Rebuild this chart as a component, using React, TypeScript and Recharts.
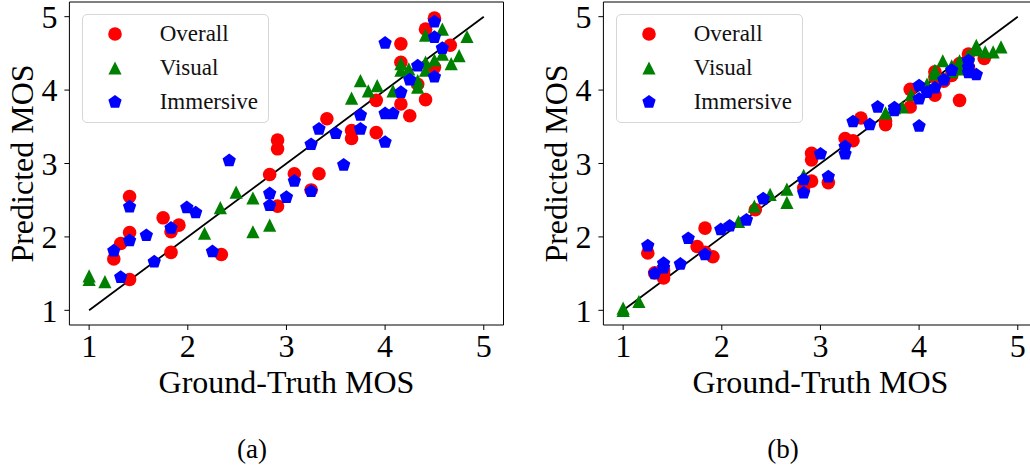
import {
  ScatterChart,
  Scatter,
  XAxis,
  YAxis,
  ReferenceLine,
  ReferenceArea,
  Legend,
  Label,
} from "recharts";

const FONT = '"Liberation Serif", "Times New Roman", serif';

const TICKS = [1, 2, 3, 4, 5];
const SERIES = ["Overall", "Visual", "Immersive"];
const COLORS = ["#ff0000", "#008000", "#0000ff"];
const PANEL_TAGS = ["(a)", "(b)"];

// ground-truth MOS is shared by both panels, predictions differ
const overallTruth = [
  4.5, 4.41, 4.66, 4.16, 4.16, 4.5, 4.33, 3.91, 4.16, 4.41, 4.25, 3.41, 3.66,
  3.66, 3.91, 2.91, 2.91, 2.83, 3.08, 3.33, 3.25, 2.91, 1.41, 1.75, 1.91, 1.83,
  1.41, 1.32, 1.25, 1.83, 2.34, 1.41,
];
const overallPredA = [
  4.98, 4.83, 4.61, 4.63, 4.38, 4.31, 4.08, 3.86, 3.81, 3.87, 3.65, 3.61, 3.45,
  3.34, 3.42, 3.32, 3.2, 2.85, 2.86, 2.86, 2.64, 2.42, 2.55, 2.26, 2.16, 2.07,
  2.06, 1.91, 1.7, 1.79, 1.76, 1.42,
];
const overallPredB = [
  4.49, 4.36, 4.43, 4.18, 4.25, 4.31, 4.2, 4.01, 3.93, 3.86, 4.12, 3.62, 3.53,
  3.58, 3.77, 3.14, 3.05, 2.67, 2.74, 3.31, 3.34, 2.76, 1.55, 1.87, 1.73, 2.12,
  1.44, 1.51, 1.78, 1.79, 2.37, 1.5,
];

const visualTruth = [
  4.58, 4.41, 4.83, 4.75, 4.67, 4.58, 4.5, 4.41, 4.41, 4.16, 4.16, 4.24, 4.33,
  4.33, 4.08, 3.75, 3.83, 3.92, 3.66, 2.49, 2.66, 2.33, 2.17, 2.66, 2.83, 1.0,
  1.0, 1.16,
];
const visualPredA = [
  4.83, 4.75, 4.73, 4.47, 4.36, 4.49, 4.41, 4.38, 4.27, 4.36, 4.27, 4.29, 4.13,
  4.04, 3.99, 4.13, 3.99, 4.06, 3.89, 2.61, 2.53, 2.4, 2.05, 2.07, 2.16, 1.47,
  1.42, 1.39,
];
const visualPredB = [
  4.61, 4.4, 4.59, 4.52, 4.52, 4.55, 4.48, 4.29, 4.35, 4.27, 4.22, 4.4, 4.33,
  4.25, 4.08, 3.76, 3.77, 3.94, 3.69, 2.58, 2.65, 2.42, 2.21, 2.47, 2.84, 1.03,
  1.0, 1.12,
];

const immersiveTruth = [
  4.5, 4.5, 4.58, 4.0, 4.33, 4.5, 4.25, 4.16, 4.0, 4.08, 4.0, 3.75, 3.75, 3.33,
  3.5, 3.25, 3.58, 2.42, 3.08, 2.83, 2.83, 3.0, 3.25, 1.99, 2.08, 1.41, 1.83,
  1.58, 1.41, 1.25, 1.66, 2.25, 1.32,
];
const immersivePredA = [
  4.93, 4.72, 4.57, 4.64, 4.33, 4.18, 4.14, 3.97, 3.68, 3.68, 3.29, 3.66, 3.47,
  3.47, 3.41, 3.26, 2.98, 3.04, 2.76, 2.59, 2.43, 2.54, 2.62, 2.4, 2.33, 2.41,
  2.12, 2.02, 1.95, 1.81, 1.66, 1.8, 1.45,
];
const immersivePredB = [
  4.4, 4.31, 4.21, 4.06, 4.27, 4.24, 4.14, 4.03, 3.88, 3.97, 3.51, 3.76, 3.72,
  3.57, 3.53, 3.23, 3.77, 2.52, 2.82, 2.78, 2.6, 3.13, 3.13, 2.1, 2.15, 1.64,
  1.76, 1.63, 1.58, 1.88, 1.98, 2.23, 1.5,
];

const pair = (xs: number[], ys: number[]) =>
  xs.map((x, i) => ({ x, y: ys[i] }));

const Marker = ({ kind, cx, cy }: { kind: number; cx: number; cy: number }) => {
  if (kind === 0) return <circle cx={cx} cy={cy} r={6.8} fill={COLORS[0]} />;
  if (kind === 1) {
    const s = 6.6;
    return (
      <polygon
        points={`${cx},${cy - s} ${cx - s},${cy + s} ${cx + s},${cy + s}`}
        fill={COLORS[1]}
      />
    );
  }
  const r = 7;
  const pts = [0, 1, 2, 3, 4]
    .map((k) => {
      const a = ((-90 + k * 72) * Math.PI) / 180;
      return `${cx + r * Math.cos(a)},${cy + r * Math.sin(a)}`;
    })
    .join(" ");
  return <polygon points={pts} fill={COLORS[2]} />;
};

const LegendBox = (props: any) => {
  // keep the plotting order, not alphabetical
  const items = [...(props.payload || [])].sort(
    (a: any, b: any) => SERIES.indexOf(a.value) - SERIES.indexOf(b.value)
  );
  return (
    <div
      style={{
        width: "100%",
        height: "100%",
        boxSizing: "border-box",
        border: "1px solid #d6d6d6",
        borderRadius: 5,
        background: "rgba(255,255,255,0.8)",
        paddingTop: 1.5,
        fontFamily: FONT,
        fontSize: 23,
        color: "#111",
      }}
    >
      {items.map((entry: any) => (
        <div
          key={entry.value}
          style={{ display: "flex", alignItems: "center", height: 34 }}
        >
          <svg width={20} height={20} style={{ marginLeft: 22 }}>
            <Marker kind={SERIES.indexOf(entry.value)} cx={10} cy={10} />
          </svg>
          <span style={{ marginLeft: 35, lineHeight: 1 }}>{entry.value}</span>
        </div>
      ))}
    </div>
  );
};

const tickStyle = { fontSize: 32, fill: "#000", fontFamily: FONT };

interface IPanel {
  overall: { x: number; y: number }[];
  visual: { x: number; y: number }[];
  immersive: { x: number; y: number }[];
}

const Panel = ({ overall, visual, immersive }: IPanel) => (
  <ScatterChart
    width={520}
    height={400}
    margin={{ top: 2, right: 16.5, bottom: 0, left: 9.4 }}
  >
    <XAxis
      type="number"
      dataKey="x"
      domain={[0.8, 5.2]}
      ticks={TICKS}
      allowDataOverflow
      interval={0}
      height={75}
      axisLine={false}
      tickLine={{ stroke: "#000" }}
      tickSize={5}
      tickMargin={4}
      tick={tickStyle}
    >
      <Label
        value="Ground-Truth MOS"
        position="insideBottom"
        offset={7}
        fontSize={32}
        fill="#000"
        fontFamily={FONT}
      />
    </XAxis>
    <YAxis
      type="number"
      dataKey="y"
      domain={[0.8, 5.2]}
      ticks={TICKS}
      allowDataOverflow
      interval={0}
      width={60}
      axisLine={false}
      tickLine={{ stroke: "#000" }}
      tickSize={5}
      tickMargin={7}
      tick={tickStyle}
    >
      <Label
        value="Predicted MOS"
        angle={-90}
        position="insideLeft"
        offset={12}
        style={{ textAnchor: "middle" }}
        fontSize={32}
        fill="#000"
        fontFamily={FONT}
      />
    </YAxis>
    <ReferenceArea
      x1={0.8}
      x2={5.2}
      y1={0.8}
      y2={5.2}
      fill="none"
      stroke="#000"
      strokeWidth={1}
    />
    <Scatter
      name={SERIES[0]}
      data={overall}
      fill={COLORS[0]}
      shape={(p: any) => <Marker kind={0} cx={p.cx} cy={p.cy} />}
      isAnimationActive={false}
    />
    <Scatter
      name={SERIES[1]}
      data={visual}
      fill={COLORS[1]}
      shape={(p: any) => <Marker kind={1} cx={p.cx} cy={p.cy} />}
      isAnimationActive={false}
    />
    <Scatter
      name={SERIES[2]}
      data={immersive}
      fill={COLORS[2]}
      shape={(p: any) => <Marker kind={2} cx={p.cx} cy={p.cy} />}
      isAnimationActive={false}
    />
    <ReferenceLine
      segment={[
        { x: 1, y: 1 },
        { x: 5, y: 5 },
      ]}
      stroke="#000"
      strokeWidth={1.8}
    />
    <Legend
      layout="vertical"
      align="center"
      verticalAlign="middle"
      wrapperStyle={{ top: 14, left: 81.7, width: 187, height: 109 }}
      content={LegendBox}
    />
  </ScatterChart>
);

const App = () => (
  <div
    style={{
      position: "absolute",
      left: 0,
      top: 0,
      width: 1030,
      height: 470,
      overflow: "hidden",
      background: "#fff",
    }}
  >
    <div style={{ position: "absolute", left: 0, top: 0 }}>
      <Panel
        overall={pair(overallTruth, overallPredA)}
        visual={pair(visualTruth, visualPredA)}
        immersive={pair(immersiveTruth, immersivePredA)}
      />
    </div>
    <div style={{ position: "absolute", left: 534, top: 0 }}>
      <Panel
        overall={pair(overallTruth, overallPredB)}
        visual={pair(visualTruth, visualPredB)}
        immersive={pair(immersiveTruth, immersivePredB)}
      />
    </div>
    {PANEL_TAGS.map((tag, i) => (
      <div
        key={tag}
        style={{
          position: "absolute",
          top: 436,
          left: i === 0 ? 212 : 743,
          width: 80,
          textAlign: "center",
          fontFamily: FONT,
          fontSize: 27,
          lineHeight: 1,
        }}
      >
        {tag}
      </div>
    ))}
  </div>
);

export default App;
